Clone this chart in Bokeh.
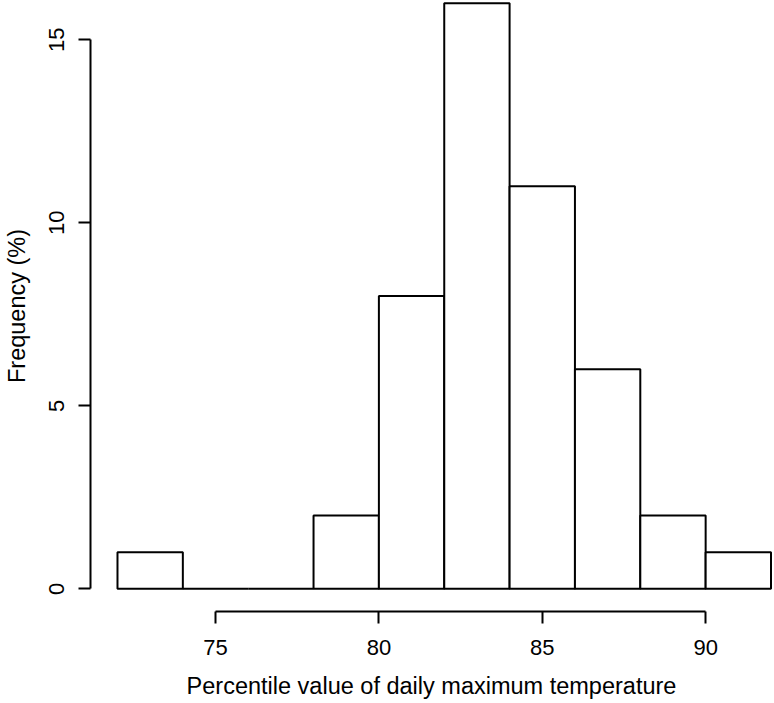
from bokeh.plotting import figure
from bokeh.models import Range1d, FixedTicker
from bokeh.embed import file_html
from bokeh.resources import INLINE

# Histogram data (percentile value of daily max temperature)
bin_edges = [72, 74, 76, 78, 80, 82, 84, 86, 88, 90, 92]
counts = [1, 0, 0, 2, 8, 16, 11, 6, 2, 1]
x_ticks = [75, 80, 85, 90]
y_ticks = [0, 5, 10, 15]
x_title = "Percentile value of daily maximum temperature"
y_title = "Frequency (%)"

FONT = "Liberation Sans"

p = figure(width=772, height=701, output_backend="svg", toolbar_location=None,
           x_range=Range1d(71.174, 92.046), y_range=Range1d(-0.62, 16.074),
           min_border_left=90, min_border_right=0, min_border_top=0,
           min_border_bottom=90)
p.outline_line_color = None
p.xgrid.visible = False
p.ygrid.visible = False
p.background_fill_color = "white"
p.border_fill_color = "white"

p.quad(left=bin_edges[:-1], right=bin_edges[1:], top=counts, bottom=0,
       fill_color="white", line_color="black", line_width=2)

for ax, ticks in ((p.xaxis[0], x_ticks), (p.yaxis[0], y_ticks)):
    ax.ticker = FixedTicker(ticks=ticks)
    ax.minor_tick_line_color = None
    ax.major_tick_in = 0
    ax.major_tick_out = 12
    ax.axis_line_width = 2
    ax.major_tick_line_width = 2
    ax.axis_line_color = "black"
    ax.major_tick_line_color = "black"
    ax.major_label_text_font = FONT
    ax.major_label_text_font_size = "22px"
    ax.major_label_text_color = "black"
    ax.major_label_text_line_height = 1.0
    ax.axis_label_text_font = FONT
    ax.axis_label_text_font_size = "23.5px"
    ax.axis_label_text_font_style = "normal"
    ax.axis_label_text_color = "black"
    ax.axis_label_text_line_height = 1.0

p.xaxis[0].bounds = (75, 90)
p.yaxis[0].bounds = (0, 15)
p.xaxis[0].axis_label = x_title
p.yaxis[0].axis_label = y_title
p.xaxis[0].major_label_standoff = 16
p.xaxis[0].axis_label_standoff = 15
p.yaxis[0].major_label_orientation = "vertical"
p.yaxis[0].major_label_standoff = 14
p.yaxis[0].axis_label_standoff = 17

open("out.html", "w").write(file_html(p, INLINE))
